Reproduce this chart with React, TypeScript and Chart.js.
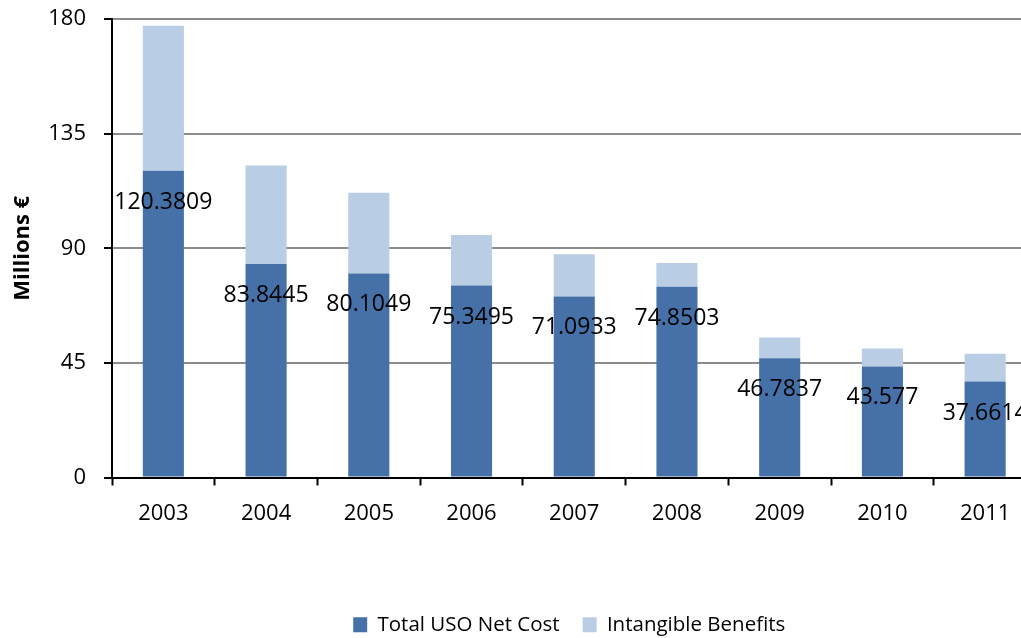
import React, { useEffect, useRef } from "react";
import { Chart, registerables } from "chart.js";

Chart.register(...registerables);

const years = ["2003", "2004", "2005", "2006", "2007", "2008", "2009", "2010", "2011"];
const totalUsoNetCost = [120.3809, 83.8445, 80.1049, 75.3495, 71.0933, 74.8503, 46.7837, 43.577, 37.6614];
const intangibleBenefits = [57.0, 38.6, 31.7, 19.9, 16.6, 9.4, 8.2, 7.1, 10.9];
const seriesNames = ["Total USO Net Cost", "Intangible Benefits"];
const yTicks = [0, 45, 90, 135, 180];

const DARK = "#4571A8";
const LIGHT = "#B9CDE5";
const FONT = "'Open Sans', 'Noto Sans', sans-serif";

const labelPlugin = {
  id: "barValueLabels",
  afterLayout(chart: any) {
    if (chart.legend) {
      chart.legend.left -= 10;
    }
  },
  afterDatasetsDraw(chart: any) {
    const meta = chart.getDatasetMeta(0);
    const ctx = chart.ctx;
    ctx.save();
    ctx.font = `23px ${FONT}`;
    ctx.fillStyle = "#000";
    ctx.textAlign = "center";
    ctx.textBaseline = "alphabetic";
    meta.data.forEach((bar: any, i: number) => {
      const v = totalUsoNetCost[i];
      ctx.fillText(String(v), bar.x, bar.y + 38);
    });
    ctx.restore();
  },
};

export default function App() {
  const ref = useRef<HTMLCanvasElement>(null);
  useEffect(() => {
    if (!ref.current) return;
    const chart = new Chart(ref.current, {
      type: "bar",
      data: {
        labels: years,
        datasets: [
          {
            label: seriesNames[0],
            data: totalUsoNetCost,
            backgroundColor: DARK,
            borderWidth: 0,
            barPercentage: 0.4,
            categoryPercentage: 1.0,
          },
          {
            label: seriesNames[1],
            data: intangibleBenefits,
            backgroundColor: LIGHT,
            borderWidth: 0,
            barPercentage: 0.4,
            categoryPercentage: 1.0,
          },
        ],
      },
      options: {
        responsive: false,
        animation: false,
        devicePixelRatio: 1,
        layout: { padding: { left: 0, right: 3.5, top: 19, bottom: 15 } },
        font: { family: FONT },
        plugins: {
          tooltip: { enabled: false },
          legend: {
            position: "bottom",
            fullSize: false,
            labels: {
              boxWidth: 14,
              boxHeight: 15,
              padding: 23,
              color: "#000",
              font: { family: FONT, size: 20.5 },
            },
          },
        },
        scales: {
          x: {
            stacked: true,
            offset: true,
            grid: {
              offset: true,
              drawOnChartArea: false,
              tickLength: 8,
              tickColor: "#000",
              tickWidth: 2,
            },
            border: { color: "#000", width: 2 },
            ticks: {
              color: "#000",
              padding: 15,
              maxRotation: 0,
              font: { family: FONT, size: 22 },
            },
            afterFit: (scale: any) => {
              scale.height = 114;
            },
          },
          y: {
            stacked: true,
            min: 0,
            max: 180,
            afterBuildTicks: (scale: any) => {
              scale.ticks = yTicks.map((v) => ({ value: v }));
            },
            grid: {
              color: "#8c8c8c",
              lineWidth: 2,
              tickLength: 8,
              tickColor: "#000",
              tickWidth: 2,
            },
            border: { color: "#000", width: 2 },
            ticks: {
              color: "#000",
              padding: 18,
              font: { family: FONT, size: 22 },
            },
            title: {
              display: true,
              text: "Millions €",
              color: "#000",
              font: { family: FONT, size: 22, weight: "bold" },
              padding: { top: 10, bottom: 0 },
            },
            afterFit: (scale: any) => {
              scale.width = 112;
              scale.paddingTop = 0;
              scale.paddingBottom = 0;
            },
          },
        },
      },
      plugins: [labelPlugin],
    });
    return () => chart.destroy();
  }, []);

  return (
    <div
      style={{
        position: "fixed",
        left: 0,
        top: 0,
        width: 1021,
        height: 638,
        overflow: "hidden",
        background: "#fff",
      }}
    >
      <canvas ref={ref} width={1040} height={660} style={{ display: "block", width: 1040, height: 660 }} />
    </div>
  );
}
